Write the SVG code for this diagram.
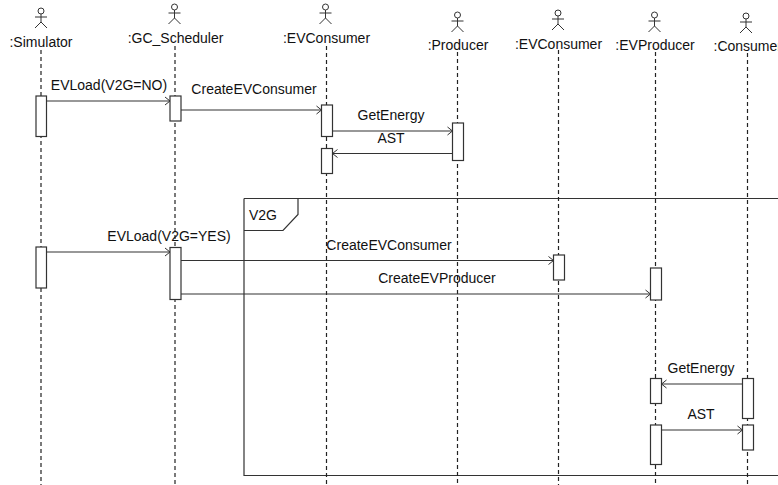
<svg xmlns="http://www.w3.org/2000/svg" width="778" height="485" viewBox="0 0 778 485">
<style>
text{font-family:"Liberation Sans",Arial,sans-serif;font-size:14px;fill:#111;text-anchor:middle}
.life{stroke:#222;stroke-width:1.2;stroke-dasharray:4 3;fill:none}
.bar{fill:#fff;stroke:#333;stroke-width:1.2}
.actor{fill:none;stroke:#333;stroke-width:1}
.msg{stroke:#333;stroke-width:1.2;fill:none;marker-end:url(#a)}
</style>
<defs>
<marker id="a" markerWidth="8" markerHeight="10" refX="6" refY="5" orient="auto" markerUnits="userSpaceOnUse"><path d="M1 1 L6 5 L1 9" fill="none" stroke="#333" stroke-width="1"/></marker>
<g id="stick" class="actor"><circle cx="0" cy="3" r="3"/><path d="M0 6V14M-6 9H6M0 14L-6 20M0 14L6 20"/></g>
</defs>
<g id="frame-v2g"><path d="M244 198.500H778M244 198.500V475.500H778" fill="none" stroke="#333" stroke-width="1.200"/><path d="M298 198.500V214.500L283 230.500H244" fill="none" stroke="#333" stroke-width="1.200"/><text x="263" y="220">V2G</text></g>
<g id="simulator"><use href="#stick" x="41" y="8"/><text x="41" y="47">:Simulator</text><path class="life" d="M41 50V485"/><rect class="bar" x="36" y="96" width="10.500" height="40.500"/><rect class="bar" x="36" y="247" width="10.500" height="41"/></g>
<g id="gc-scheduler"><use href="#stick" x="174.500" y="4"/><text x="175.500" y="43">:GC_Scheduler</text><path class="life" d="M175 46V485"/><rect class="bar" x="170" y="96" width="11" height="25"/><rect class="bar" x="170" y="247.500" width="11" height="52"/></g>
<g id="evconsumer-1"><use href="#stick" x="325.500" y="4"/><text x="326.500" y="43">:EVConsumer</text><path class="life" d="M326.500 46V485"/><rect class="bar" x="321.500" y="105" width="11" height="31.500"/><rect class="bar" x="321.500" y="148.500" width="11" height="25"/></g>
<g id="producer"><use href="#stick" x="457.500" y="12"/><text x="458" y="50">:Producer</text><path class="life" d="M457.500 52V485"/><rect class="bar" x="452.500" y="123" width="11" height="37.500"/></g>
<g id="evconsumer-2"><use href="#stick" x="558" y="10"/><text x="558.500" y="49">:EVConsumer</text><path class="life" d="M558.500 50V485"/><rect class="bar" x="553.500" y="255" width="11" height="25"/></g>
<g id="evproducer"><use href="#stick" x="654.500" y="12"/><text x="655" y="50">:EVProducer</text><path class="life" d="M655.500 52V485"/><rect class="bar" x="650.500" y="268" width="11" height="32"/><rect class="bar" x="650.500" y="378.500" width="11" height="25"/><rect class="bar" x="650.500" y="425" width="11" height="39.500"/></g>
<g id="consumer"><use href="#stick" x="746" y="13"/><text x="713.500" y="51" style="text-anchor:start">:Consumer</text><path class="life" d="M747.500 53V485"/><rect class="bar" x="742.500" y="378.500" width="11" height="40"/><rect class="bar" x="742.500" y="425" width="11" height="25"/></g>
<g id="connectors">
<path class="msg" d="M46.500 101H170"/><path class="msg" d="M181 110H321.500"/><path class="msg" d="M332.500 131H452.500"/><path class="msg" d="M452.500 153.500H332.500"/>
<path class="msg" d="M46.500 252H170"/><path class="msg" d="M181 260.500H553.500"/><path class="msg" d="M181 294H650.500"/>
<path class="msg" d="M742.500 384H661.500"/><path class="msg" d="M661.500 430H742.500"/>
</g>
<g id="labels">
<text x="109" y="90">EVLoad(V2G=NO)</text><text x="254" y="94">CreateEVConsumer</text><text x="391" y="120">GetEnergy</text><text x="391" y="143">AST</text>
<text x="169" y="241">EVLoad(V2G=YES)</text><text x="389" y="250">CreateEVConsumer</text><text x="437" y="283">CreateEVProducer</text>
<text x="701" y="373">GetEnergy</text><text x="701" y="419">AST</text>
</g>
</svg>
